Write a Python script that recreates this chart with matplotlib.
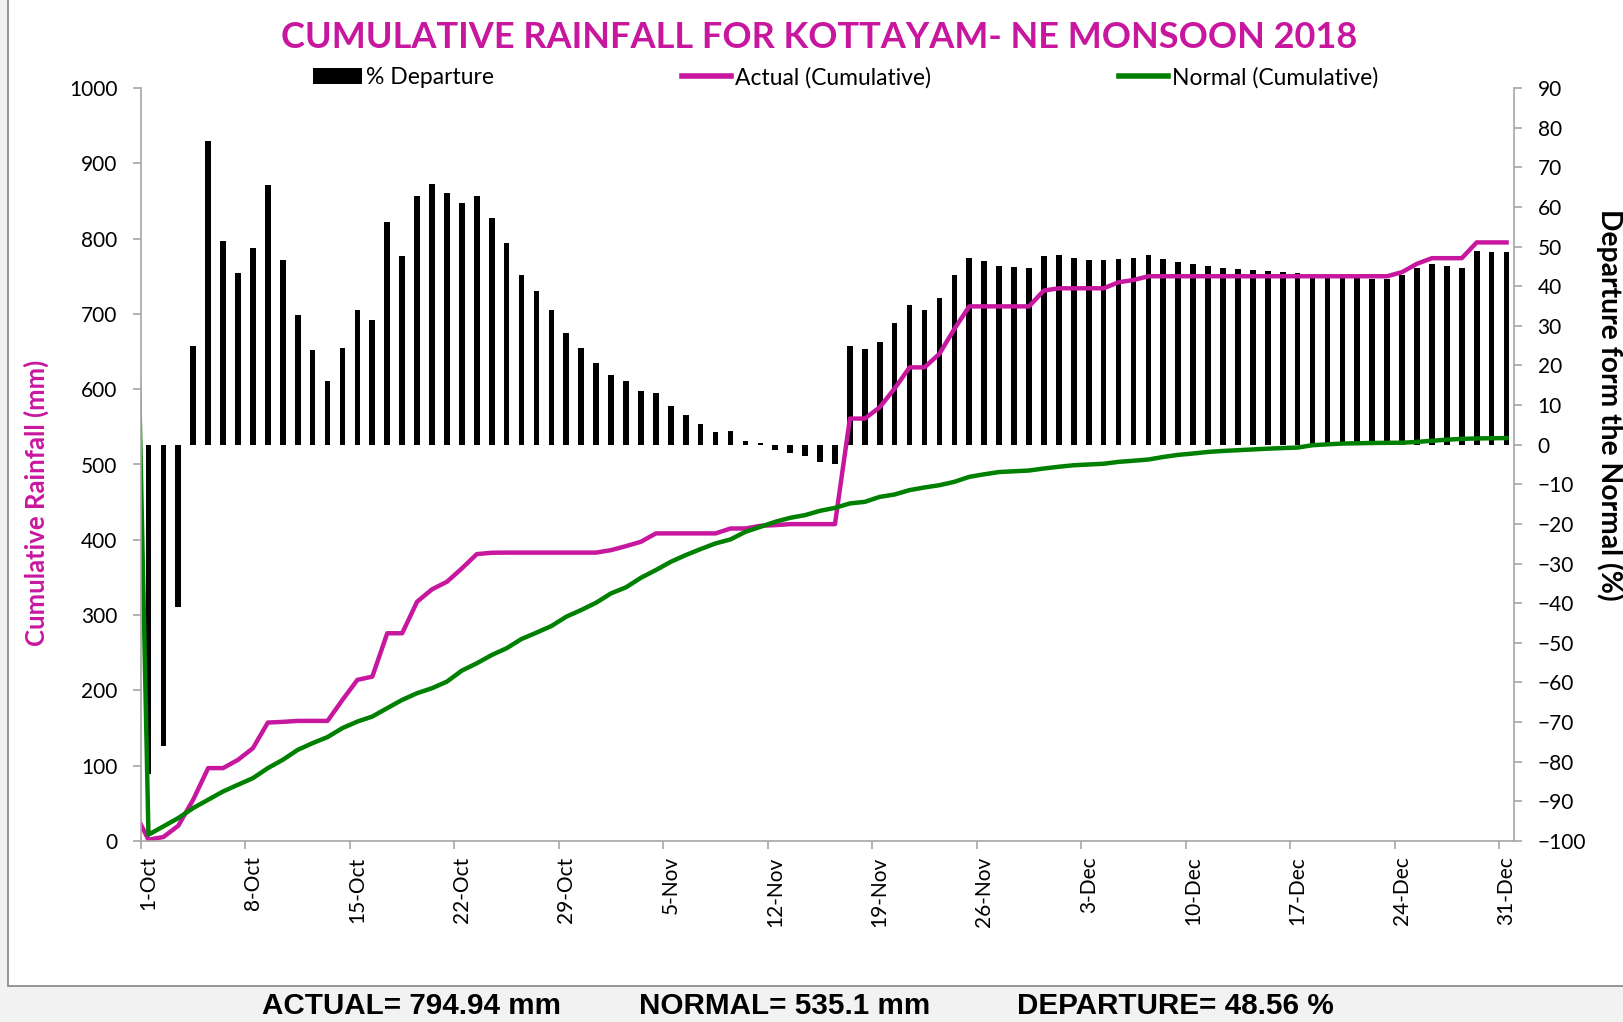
import matplotlib
matplotlib.use("Agg")
import matplotlib.pyplot as plt
import numpy as np
import pandas as pd
from matplotlib.patches import Rectangle, Patch
from matplotlib.lines import Line2D

plt.rcParams["font.family"] = ["Lato", "DejaVu Sans"]

MAGENTA = "#C8179F"
GREEN = "#008000"
AXIS_GRAY = "#A6A6A6"

# Daily categories, 1 Oct - 31 Dec 2018
dates = pd.date_range("2018-10-01", "2018-12-31", freq="D")

# % departure from normal (bars, right axis)
departure = [
    -83, -76, -41, 25, 76.7, 51.3, 43.3, 49.7, 65.6, 46.7,
    32.6, 24.0, 16.0, 24.5, 33.9, 31.5, 56.1, 47.7, 62.8, 65.7,
    63.4, 61.0, 62.8, 57.2, 50.8, 42.9, 38.7, 33.9, 28.2, 24.4,
    20.7, 17.7, 16.0, 13.5, 13.1, 9.8, 7.4, 5.1, 3.2, 3.4,
    0.9, 0.3, -1.3, -2.1, -2.9, -4.3, -5.0, 24.9, 24.1, 26.0,
    30.6, 35.3, 34.0, 37.1, 42.9, 47.1, 46.4, 45.2, 44.9, 44.5,
    47.7, 47.9, 47.1, 46.6, 46.5, 46.9, 47.2, 47.9, 46.9, 46.1,
    45.7, 45.0, 44.6, 44.4, 44.1, 43.9, 43.6, 43.4, 42.7, 42.4,
    42.1, 42.0, 41.9, 41.8, 42.8, 44.5, 45.7, 45.1, 44.7, 48.9,
    48.6, 48.56,
]

# Actual cumulative rainfall (mm)
actual = [
    1.7, 5.3, 20.3, 55, 96.8, 96.8, 107.8, 123.3, 157.3, 158.2,
    159.5, 159.5, 159.5, 187.4, 214, 218.3, 275.9, 275.9, 317.8, 334.2,
    344.3, 362, 381, 382.8, 383, 383, 383, 383, 383, 383,
    383, 386.3, 391.6, 397.4, 408.5, 408.5, 408.5, 408.5, 408.5, 415,
    415, 418.6, 419.5, 420.8, 420.8, 420.8, 420.8, 561, 561, 576,
    601, 629, 629, 647, 680, 710, 710, 710, 710, 710,
    731, 734, 734, 734, 734, 742, 745, 750, 750, 750,
    750, 750, 750, 750, 750, 750, 750, 750, 750, 750,
    750, 750, 750, 750, 755.5, 766.6, 774, 774, 774, 794.94,
    794.94, 794.94,
]

# Normal cumulative rainfall (mm)
normal = [
    8.4, 19.4, 30.5, 43.8, 54.8, 65.8, 74.7, 83.5, 96.8, 107.8,
    121, 130, 138, 150, 158.6, 165.3, 176.4, 187.4, 196.3, 202.9,
    211.7, 226.3, 236, 247, 256, 268.3, 276.7, 285.5, 297.9, 306.8,
    316.5, 328.9, 336.9, 349.6, 359.8, 370.8, 379.7, 387.7, 395.2, 400.5,
    410.6, 417.2, 423.9, 429.2, 432.8, 438.5, 442.4, 448.3, 450.4, 457,
    460.2, 466, 469.5, 472.5, 477, 483.6, 487, 490, 491, 492,
    494.7, 497, 499, 500, 501, 503.5, 505, 506.6, 510, 512.8,
    514.6, 516.7, 518, 519, 520, 521, 521.8, 522.5, 525.6, 526.8,
    527.8, 528.2, 528.6, 528.8, 528.9, 530, 531.5, 533, 534, 534.6,
    534.9, 535.1,
]

# the sheet's lines carry one extra leading value (clipped at the axis)
actual_lead = 41.5
normal_lead = 960

actual_total = 794.94
normal_total = 535.1
departure_total = 48.56

x = np.arange(len(dates))
x_line = np.arange(-1, len(dates))
tick_idx = np.arange(0, len(dates), 7)
tick_labels = [f"{d.day}-{d:%b}" for d in dates[tick_idx]]

fig = plt.figure(figsize=(16.24, 10.22), dpi=100, facecolor="#F2F2F2")
fig.patches.append(
    Rectangle((8 / 1624, 1 - 986 / 1022), 1.0, 1.0, transform=fig.transFigure,
              facecolor="white", edgecolor="#8C8C8C", lw=1.3, zorder=-1)
)

ax = fig.add_axes([141 / 1624, 1 - 841 / 1022, 1373 / 1624, 753 / 1022])
ax2 = ax.twinx()

# bars on the secondary axis
ax2.bar(x, departure, width=0.38, color="black")
ax2.set_ylim(-100, 90)
ax2.set_yticks(range(-100, 91, 10))

# lines on the primary axis, drawn above the bars
ax.plot(x_line, [actual_lead] + actual, color=MAGENTA, lw=3.2)
ax.plot(x_line, [normal_lead] + normal, color=GREEN, lw=3.2)
ax.set_zorder(ax2.get_zorder() + 1)
ax.patch.set_visible(False)

ax.set_ylim(0, 1000)
ax.set_yticks(range(0, 1001, 100))
ax.set_xlim(-0.5, len(dates) - 0.5)
ax.set_xticks(tick_idx)
ax.set_xticklabels(tick_labels, rotation=90, va="top", ha="center")
ax.set_xticks(tick_idx - 0.5, minor=True)

for s in ["top", "right"]:
    ax.spines[s].set_visible(False)
for s in ["left", "bottom"]:
    ax.spines[s].set_color(AXIS_GRAY)
    ax.spines[s].set_linewidth(1.2)
for s in ["top", "left", "bottom"]:
    ax2.spines[s].set_visible(False)
ax2.spines["right"].set_color(AXIS_GRAY)
ax2.spines["right"].set_linewidth(1.2)

ax.tick_params(axis="y", direction="out", length=6, width=1.2, color=AXIS_GRAY, labelsize=15, pad=11)
ax2.tick_params(axis="y", direction="out", length=6, width=1.2, color=AXIS_GRAY, labelsize=15, pad=11)
ax.tick_params(axis="x", which="major", length=0, labelsize=15, pad=11)
ax.tick_params(axis="x", which="minor", direction="out", length=6, width=1.2, color=AXIS_GRAY)

fig.text(819 / 1624, 1 - 37.5 / 1022, "CUMULATIVE RAINFALL FOR KOTTAYAM- NE MONSOON 2018",
         ha="center", va="center", fontsize=26, fontweight="bold", color=MAGENTA)
fig.text(36 / 1624, 1 - 503 / 1022, "Cumulative Rainfall (mm)", rotation=90,
         ha="center", va="center", fontsize=18.5, fontweight="bold", color=MAGENTA)
fig.text(1610 / 1624, 1 - 405 / 1022, "Departure form the Normal (%)", rotation=-90,
         ha="center", va="center", fontsize=20.3, fontweight="bold", color="black")

handles = [
    Patch(facecolor="black"),
    Line2D([], [], color=MAGENTA, lw=4),
    Line2D([], [], color=GREEN, lw=4),
]
fig.legend(handles, ["% Departure", "Actual (Cumulative)", "Normal (Cumulative)"],
           loc="center", bbox_to_anchor=(845.5 / 1624, 1 - 77.5 / 1022), ncol=3,
           frameon=False, fontsize=16.5, handlelength=2.13, handletextpad=0.18,
           columnspacing=8.2)

bottom_font = ["Liberation Sans Narrow", "Liberation Sans"]
fig.text(412 / 1624, 1 - 1006 / 1022, f"ACTUAL= {actual_total} mm", ha="center", va="center",
         fontsize=21.3, fontweight="bold", family=bottom_font)
fig.text(785 / 1624, 1 - 1006 / 1022, f"NORMAL= {normal_total} mm", ha="center", va="center",
         fontsize=21.3, fontweight="bold", family=bottom_font)
fig.text(1175 / 1624, 1 - 1006 / 1022, f"DEPARTURE= {departure_total} %", ha="center", va="center",
         fontsize=21.3, fontweight="bold", family=bottom_font)

fig.savefig("out.png", dpi=100, facecolor=fig.get_facecolor())
